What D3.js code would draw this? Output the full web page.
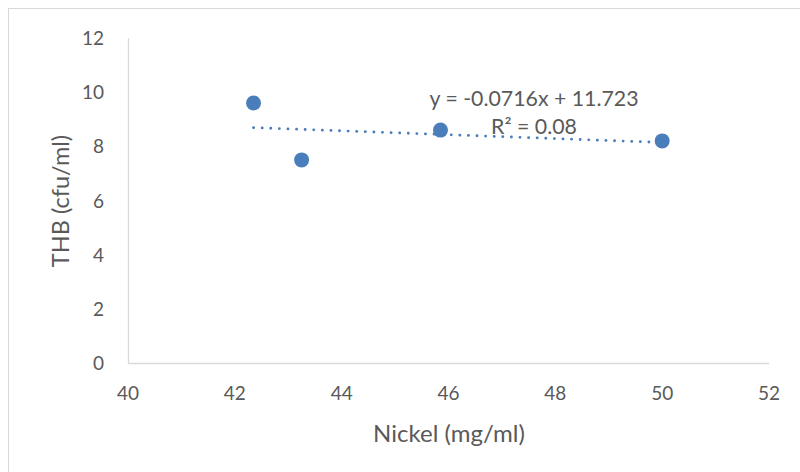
<!DOCTYPE html>
<html><head><meta charset="utf-8">
<script src="https://cdn.jsdelivr.net/npm/d3@7"></script>
<style>body{margin:0;background:#fff}svg{display:block}text{font-family:Lato,"Open Sans",sans-serif;fill:#595959}</style>
</head><body>
<script>
const nickel = [42.35, 43.25, 45.85, 50.0];
const thb = [9.6, 7.5, 8.6, 8.2];
const xTicks = [40, 42, 44, 46, 48, 50, 52];
const yTicks = [0, 2, 4, 6, 8, 10, 12];
const trendSlope = -0.0716, trendIntercept = 11.723;
const eqLabel = "y = -0.0716x + 11.723";
const r2Label = "R² = 0.08";

const W = 800, H = 472;
const svg = d3.select("body").append("svg").attr("width", W).attr("height", H);
svg.append("rect").attr("x", 8.5).attr("y", 8.5).attr("width", W).attr("height", H)
  .attr("fill", "none").attr("stroke", "#d9d9d9").attr("stroke-width", 1);

const x = d3.scaleLinear().domain([40, 52]).range([128, 769]);
const y = d3.scaleLinear().domain([0, 12]).range([363, 38]);

svg.append("line").attr("x1", x(40)).attr("x2", x(52)).attr("y1", y(0)+0.5).attr("y2", y(0)+0.5)
  .attr("stroke", "#d9d9d9").attr("stroke-width", 1.3);
svg.append("line").attr("x1", x(40)+0.5).attr("x2", x(40)+0.5).attr("y1", y(0)).attr("y2", y(12))
  .attr("stroke", "#d9d9d9").attr("stroke-width", 1.3);

svg.selectAll(".xt").data(xTicks).enter().append("text")
  .attr("x", d => x(d)).attr("y", 400).attr("text-anchor", "middle")
  .attr("font-size", 19).text(d => d);
svg.selectAll(".yt").data(yTicks).enter().append("text")
  .attr("x", 104).attr("y", d => y(d) + 7).attr("text-anchor", "end")
  .attr("font-size", 19).text(d => d);

svg.append("text").attr("x", 449).attr("y", 442).attr("text-anchor", "middle")
  .attr("font-size", 24).text("Nickel (mg/ml)");
svg.append("text").attr("transform", "translate(69,201) rotate(-90)").attr("text-anchor", "middle")
  .attr("font-size", 23.5).text("THB (cfu/ml)");

const xmin = d3.min(nickel), xmax = d3.max(nickel);
svg.append("line")
  .attr("x1", x(xmin)).attr("y1", y(trendSlope * xmin + trendIntercept))
  .attr("x2", x(xmax)).attr("y2", y(trendSlope * xmax + trendIntercept))
  .attr("stroke", "#4a7ebb").attr("stroke-width", 2.8).attr("stroke-linecap", "round")
  .attr("stroke-dasharray", "0.1 8.5");

svg.selectAll(".pt").data(nickel).enter().append("circle")
  .attr("cx", d => x(d)).attr("cy", (d, i) => y(thb[i])).attr("r", 7.5)
  .attr("fill", "#4a7ebb");

svg.append("text").attr("x", 534).attr("y", 106).attr("text-anchor", "middle")
  .attr("font-size", 21.3).text(eqLabel);
svg.append("text").attr("x", 534).attr("y", 134).attr("text-anchor", "middle")
  .attr("font-size", 21.3).text(r2Label);
</script>
</body></html>
